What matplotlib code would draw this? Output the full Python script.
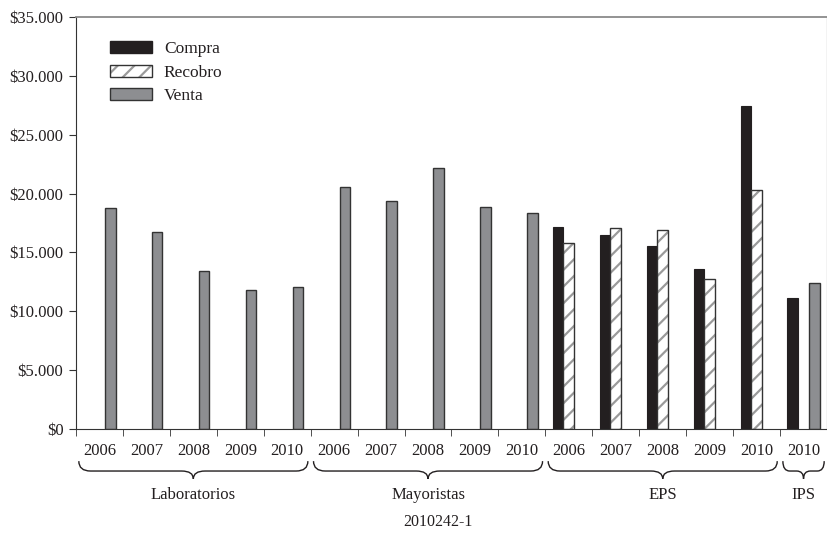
import numpy as np
import matplotlib.pyplot as plt
from matplotlib.patches import Patch, PathPatch
from matplotlib.path import Path
from matplotlib.ticker import FuncFormatter, MultipleLocator
import matplotlib.transforms as mtransforms

nan = np.nan

years = ["2006", "2007", "2008", "2009", "2010",
         "2006", "2007", "2008", "2009", "2010",
         "2006", "2007", "2008", "2009", "2010",
         "2010"]
groups = ["Laboratorios", "Mayoristas", "EPS", "IPS"]
group_sizes = [5, 5, 5, 1]

compra = [nan] * 10 + [17180, 16470, 15530, 13560, 27420, 11090]
recobro = [nan] * 10 + [15760, 17040, 16920, 12730, 20310, nan]
venta = [18790, 16700, 13410, 11770, 12030,
         20600, 19410, 22130, 18820, 18360,
         nan, nan, nan, nan, nan, 12370]

plt.rcParams['font.family'] = ['Liberation Serif', 'DejaVu Serif']
plt.rcParams['hatch.linewidth'] = 1.6
txt = '#231f20'
fs = 12

fig = plt.figure(figsize=(8.28, 5.33), dpi=100)
ax = fig.add_axes([76 / 828, 1 - 429 / 533, 751 / 828, 412 / 533])

x = np.arange(len(years))
w = 0.228
ax.bar(x - w, compra, w, color='#231f20', edgecolor='#231f20', lw=0.8)
ax.bar(x, recobro, w, color='white', edgecolor='#9a9a9a', hatch='//', lw=0)
ax.bar(x, recobro, w, fill=False, edgecolor='#333333', lw=1.0)
ax.bar(x + w, venta, w, color='#8d8e91', edgecolor='#333333', lw=1.0)

ax.set_xlim(-0.5, len(years) - 0.5)
ax.set_ylim(0, 35000)
ax.yaxis.set_major_locator(MultipleLocator(5000))
ax.yaxis.set_major_formatter(FuncFormatter(lambda v, p: '${:,.0f}'.format(v).replace(',', '.')))
ax.set_xticks(x)
ax.set_xticklabels(years)
ax.set_xticks(np.arange(len(years) + 1) - 0.5, minor=True)
ax.tick_params(axis='x', which='major', length=0, pad=10, labelsize=fs, colors=txt)
ax.tick_params(axis='x', which='minor', length=5, color='#333333')
ax.tick_params(axis='y', length=5, pad=4, labelsize=fs, colors=txt, color='#333333')
for s in ['left', 'bottom', 'right']:
    ax.spines[s].set_color('#333333')
ax.spines['top'].set_color('#8a8a8a')
ax.spines['top'].set_linewidth(1.3)

# braces under each group
trans = mtransforms.blended_transform_factory(ax.transData, ax.transAxes)
ytop, ymid, ybot = -0.078, -0.102, -0.121
start = 0
for name, n in zip(groups, group_sizes):
    x0 = start - 0.44
    x1 = start + n - 1 + 0.44
    xm = (x0 + x1) / 2
    r = min(0.25, (x1 - x0) / 6)
    verts = [(x0, ytop), (x0, ymid), (x0 + r, ymid),
             (xm - r, ymid), (xm, ymid), (xm, ybot),
             (xm, ymid), (xm + r, ymid),
             (x1 - r, ymid), (x1, ymid), (x1, ytop)]
    codes = [Path.MOVETO, Path.CURVE3, Path.CURVE3,
             Path.LINETO, Path.CURVE3, Path.CURVE3,
             Path.CURVE3, Path.CURVE3,
             Path.LINETO, Path.CURVE3, Path.CURVE3]
    ax.add_patch(PathPatch(Path(verts, codes), transform=trans, fill=False,
                           edgecolor=txt, lw=1.0, clip_on=False))
    ax.text(xm, -0.160, name, transform=trans, ha='center', va='center',
            fontsize=fs, color=txt)
    start += n

fig.text(438 / 828, 1 - 522 / 533, '2010242-1', ha='center', va='center',
         fontsize=11.5, color=txt)

h_compra = Patch(facecolor='#231f20', edgecolor='#231f20')
h_rec = (Patch(facecolor='white', edgecolor='#9a9a9a', hatch='//', lw=0),
         Patch(fill=False, edgecolor='#333333', lw=1.0))
h_venta = Patch(facecolor='#8d8e91', edgecolor='#333333')
leg = ax.legend([h_compra, h_rec, h_venta], ['Compra', 'Recobro', 'Venta'],
                loc='upper left', bbox_to_anchor=(110 / 828, 1 - 41 / 533),
                bbox_transform=fig.transFigure, frameon=False, borderpad=0,
                handlelength=2.4, handleheight=0.72, handletextpad=0.7,
                labelspacing=0.42, fontsize=12.5, borderaxespad=0)
for t in leg.get_texts():
    t.set_color(txt)

fig.savefig('out.png', dpi=100)
